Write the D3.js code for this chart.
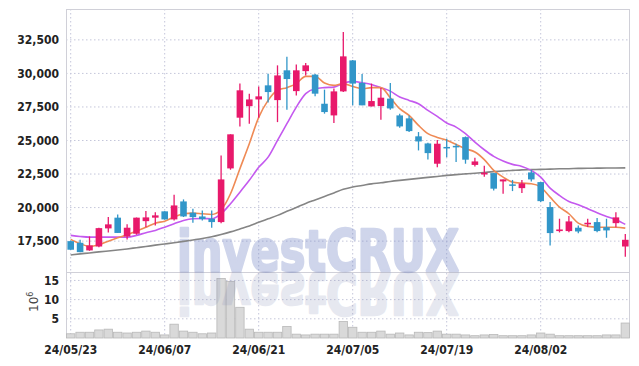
<!DOCTYPE html>
<html>
<head>
<meta charset="utf-8">
<script src="https://cdn.jsdelivr.net/npm/d3@7"></script>
<style>
  body { margin: 0; background: #fff; }
  svg { display: block; }
  .tick text { font-family: "DejaVu Sans Condensed", "DejaVu Sans", sans-serif; font-weight: bold; font-size: 12px; fill: #222; }
</style>
</head>
<body>
<div id="chart"></div>
<script>
// trading days (yy/mm/dd)
var dates = [
  "24/05/23","24/05/24","24/05/27","24/05/28","24/05/29","24/05/30","24/05/31",
  "24/06/03","24/06/04","24/06/05","24/06/07",
  "24/06/10","24/06/11","24/06/12","24/06/13","24/06/14",
  "24/06/17","24/06/18","24/06/19","24/06/20","24/06/21",
  "24/06/24","24/06/25","24/06/26","24/06/27","24/06/28",
  "24/07/01","24/07/02","24/07/03","24/07/04","24/07/05",
  "24/07/08","24/07/09","24/07/10","24/07/11","24/07/12",
  "24/07/15","24/07/16","24/07/17","24/07/18","24/07/19",
  "24/07/22","24/07/23","24/07/24","24/07/25","24/07/26",
  "24/07/29","24/07/30","24/07/31","24/08/01","24/08/02",
  "24/08/05","24/08/06","24/08/07","24/08/08","24/08/09",
  "24/08/12","24/08/13","24/08/14","24/08/16"
];
var xTickLabels = ["24/05/23","24/06/07","24/06/21","24/07/05","24/07/19","24/08/02"];

var openP  = [17500,17380,16810,17100,18450,19250,17850,18050,18990,19250,19720,19120,20460,19620,19340,19170,18920,22920,26700,27560,
              28060,29110,28010,30230,28680,30170,29910,27740,26870,28660,30970,29290,27540,27570,28120,26870,26650,25310,24780,23270,
              24520,24600,25250,23180,22470,22570,21950,21730,21450,22620,21900,20040,18250,18250,18500,18750,18920,18540,18840,17100];
var closeP = [16860,16680,17180,18470,18750,18110,18500,19250,19270,19420,19120,20160,19340,19290,19140,18920,22100,25460,28740,28060,
              28290,28610,29850,29580,30230,30600,28490,27120,28660,31270,29240,27620,27940,28190,27390,26050,25700,24930,24060,24760,
              24410,24510,23570,23440,22600,21410,22100,21620,21800,22100,20480,18100,18370,18970,18220,18870,18250,18300,19270,17600];
var highP  = [17550,17600,17850,18500,19300,19490,18750,19260,19740,19660,19730,20960,20610,19920,19790,19790,23890,25460,29240,28490,
              29030,29980,30600,31250,30670,30770,29950,28790,28880,33080,31000,29960,29240,28920,29290,26990,26870,25630,24830,25040,
              25130,24760,25300,23720,23110,22570,22100,22060,22060,22810,21900,20410,19170,19380,18670,19170,19230,19170,19660,18040];
var lowP   = [16850,16680,16780,17050,18150,18110,17630,17980,18540,18670,19100,19040,19300,18870,19040,18500,18840,22820,26050,26250,
              26700,27840,26370,27300,28360,29850,28290,27000,26310,28610,27620,27620,27540,26550,27300,25950,25630,24260,23590,23000,
              23760,23390,23270,23070,22290,21280,21030,21230,21080,21950,20410,17180,18150,18170,18080,18560,18170,17750,18540,16340];

// moving averages
var ma5  = [17630,17310,17110,17230,17500,17750,17980,18250,18540,18840,18990,19290,19540,19590,19540,19490,19840,21030,22900,24760,
            26720,27990,28740,28940,29240,29780,29780,29280,29110,29240,29030,28860,28940,28940,28190,27370,26870,26130,25510,25230,
            25010,24710,24390,24140,23570,22770,22270,21900,21820,21780,21530,20780,20040,19540,18840,18600,18540,18540,18540,18470];
var ma20 = [17930,17850,17800,17800,17800,17800,17800,17930,18130,18300,18540,18800,19040,19170,19190,19170,19540,20290,21150,22030,
            23000,23760,25010,26250,27490,28490,28860,28940,28980,29280,29410,29310,29180,28940,28680,28240,27990,27740,27240,26800,
            26300,26000,25510,24880,24310,23820,23470,23220,23070,22770,22270,21450,20910,20460,20210,19920,19620,19340,19100,18750];
var ma60 = [16470,16550,16620,16700,16770,16840,16920,17010,17100,17200,17290,17380,17480,17590,17700,17830,18000,18190,18410,18630,
            18900,19160,19420,19720,20010,20310,20570,20830,21090,21360,21540,21650,21770,21850,21950,22030,22100,22180,22250,22320,
            22400,22460,22510,22560,22620,22680,22730,22770,22810,22830,22850,22870,22890,22900,22920,22930,22940,22950,22950,22960];

// volume, millions of shares
var volume = [1.1,1.5,1.5,2.1,2.3,1.5,1.3,1.5,1.8,1.5,0.8,3.6,1.8,1.5,1.1,1.3,15.5,14.7,8.0,2.3,
              1.5,1.5,1.5,3.0,1.0,0.8,1.0,1.0,1.0,4.3,2.8,1.5,1.5,1.8,1.0,1.3,0.8,1.5,1.4,1.8,
              1.0,1.0,0.8,0.6,0.8,0.9,0.6,0.6,0.6,0.8,1.3,1.0,0.6,0.6,0.6,0.6,0.6,0.8,0.8,3.9];

var priceTicks = [17500,20000,22500,25000,27500,30000,32500];
var volTicks = [5,10,15];

var W = 639, H = 366;
// note: "top" is taken by window.top, so plotTop
var plotLeft = 66, plotRight = 630, plotTop = 9, priceBottom = 272, volBottom = 338;
var upColor = "#e8196b", downColor = "#3196c9";

var svg = d3.select("#chart").append("svg")
  .attr("width", W).attr("height", H);

var x = d3.scaleBand().domain(dates).range([plotLeft, plotRight])
  .paddingInner(0.3).paddingOuter(0.15);
var cx = function(i) { return x(dates[i]) + x.bandwidth() / 2; };

var y = d3.scaleLinear().domain([15200, 34800]).range([priceBottom, plotTop]);
var yv = d3.scaleLinear().domain([0, 17.2]).range([volBottom, priceBottom]);

/***** grid *****/
var grid = svg.append("g").attr("stroke", "#c4c6da").attr("stroke-dasharray", "1.5,2.5");
grid.selectAll(".hp").data(priceTicks).enter().append("line")
  .attr("x1", plotLeft).attr("x2", plotRight)
  .attr("y1", function(d) { return y(d); }).attr("y2", function(d) { return y(d); });
grid.selectAll(".hv").data(volTicks).enter().append("line")
  .attr("x1", plotLeft).attr("x2", plotRight)
  .attr("y1", function(d) { return yv(d); }).attr("y2", function(d) { return yv(d); });
grid.selectAll(".vx").data(xTickLabels).enter().append("line")
  .attr("x1", function(d) { return x(d) + x.bandwidth() / 2; })
  .attr("x2", function(d) { return x(d) + x.bandwidth() / 2; })
  .attr("y1", plotTop).attr("y2", volBottom);

// frame
var frame = svg.append("g").attr("stroke", "#d0d0d8").attr("fill", "none");
frame.append("line").attr("x1", plotLeft).attr("x2", plotRight).attr("y1", plotTop + 0.5).attr("y2", plotTop + 0.5);
frame.append("line").attr("x1", plotLeft).attr("x2", plotRight).attr("y1", priceBottom + 0.5).attr("y2", priceBottom + 0.5);
frame.append("line").attr("x1", plotLeft + 0.5).attr("x2", plotLeft + 0.5).attr("y1", plotTop).attr("y2", volBottom);
frame.append("line").attr("x1", plotRight - 0.5).attr("x2", plotRight - 0.5).attr("y1", plotTop).attr("y2", volBottom);

/***** volume bars *****/
svg.append("g").selectAll("rect").data(volume).enter().append("rect")
  .attr("x", function(d, i) { return x(dates[i]) - x.step() * x.paddingInner() / 2 + 0.5; })
  .attr("width", x.step() - 1)
  .attr("y", function(d) { return yv(d); })
  .attr("height", function(d) { return volBottom - yv(d); })
  .attr("fill", "#d9d9d9")
  .attr("stroke", "#b8b8b8")
  .attr("stroke-width", 0.8);

/***** watermark (text + mirrored reflection) *****/
function watermark(opacity, color, flip) {
  var g = svg.append("g").attr("opacity", opacity);
  if (flip) g.attr("transform", "translate(0," + (priceBottom * 2) + ") scale(1,-1)");
  g.append("text")
    .attr("x", 318).attr("y", priceBottom - 1)
    .attr("text-anchor", "middle")
    .attr("textLength", 282).attr("lengthAdjust", "spacingAndGlyphs")
    .style("font-family", "'DejaVu Sans', sans-serif")
    .style("font-weight", "bold")
    .style("font-size", "57px")
    .attr("fill", color)
    .attr("stroke", color)
    .attr("stroke-width", 2.6)
    .attr("stroke-linejoin", "round")
    .text("investCRUX");
}
watermark(0.36, "#7b8cc8", false);
watermark(0.2, "#8890b8", true);

/***** moving averages *****/
var line = d3.line()
  .x(function(d, i) { return cx(i); })
  .y(function(d) { return y(d); })
  .curve(d3.curveMonotoneX);
[[ma60, "#858585"], [ma20, "#c459ef"], [ma5, "#ef8a55"]].forEach(function(s) {
  svg.append("path").datum(s[0])
    .attr("d", line)
    .attr("fill", "none")
    .attr("stroke", s[1])
    .attr("stroke-width", 1.6);
});

/***** candles *****/
var candles = svg.append("g").selectAll("g").data(dates).enter().append("g");
candles.append("line")
  .attr("x1", function(d, i) { return cx(i); })
  .attr("x2", function(d, i) { return cx(i); })
  .attr("y1", function(d, i) { return y(highP[i]); })
  .attr("y2", function(d, i) { return y(lowP[i]); })
  .attr("stroke", function(d, i) { return closeP[i] >= openP[i] ? upColor : downColor; })
  .attr("stroke-width", 1.3);
candles.append("rect")
  .attr("x", function(d) { return x(d); })
  .attr("width", x.bandwidth())
  .attr("y", function(d, i) { return y(Math.max(openP[i], closeP[i])); })
  .attr("height", function(d, i) { return Math.max(1.5, Math.abs(y(openP[i]) - y(closeP[i]))); })
  .attr("fill", function(d, i) { return closeP[i] >= openP[i] ? upColor : downColor; });

/***** axes *****/
svg.append("g")
  .attr("transform", "translate(" + plotLeft + ",0)")
  .call(d3.axisLeft(y).tickValues(priceTicks).tickSize(0).tickPadding(7).tickFormat(d3.format(",")))
  .call(function(g) { g.select(".domain").remove(); });
svg.append("g")
  .attr("transform", "translate(" + plotLeft + ",0)")
  .call(d3.axisLeft(yv).tickValues(volTicks).tickSize(0).tickPadding(7))
  .call(function(g) { g.select(".domain").remove(); });
svg.append("g")
  .attr("transform", "translate(0," + (volBottom + 3) + ")")
  .call(d3.axisBottom(x).tickValues(xTickLabels).tickSize(0).tickPadding(4))
  .call(function(g) { g.select(".domain").remove(); });

// volume unit label
var unit = svg.append("text")
  .attr("transform", "translate(38,312) rotate(-90)")
  .style("font-family", "'DejaVu Sans', sans-serif")
  .style("font-size", "12px")
  .attr("fill", "#444");
unit.append("tspan").text("10");
unit.append("tspan").attr("dy", -5).style("font-size", "8px").text("6");
</script>
</body>
</html>
